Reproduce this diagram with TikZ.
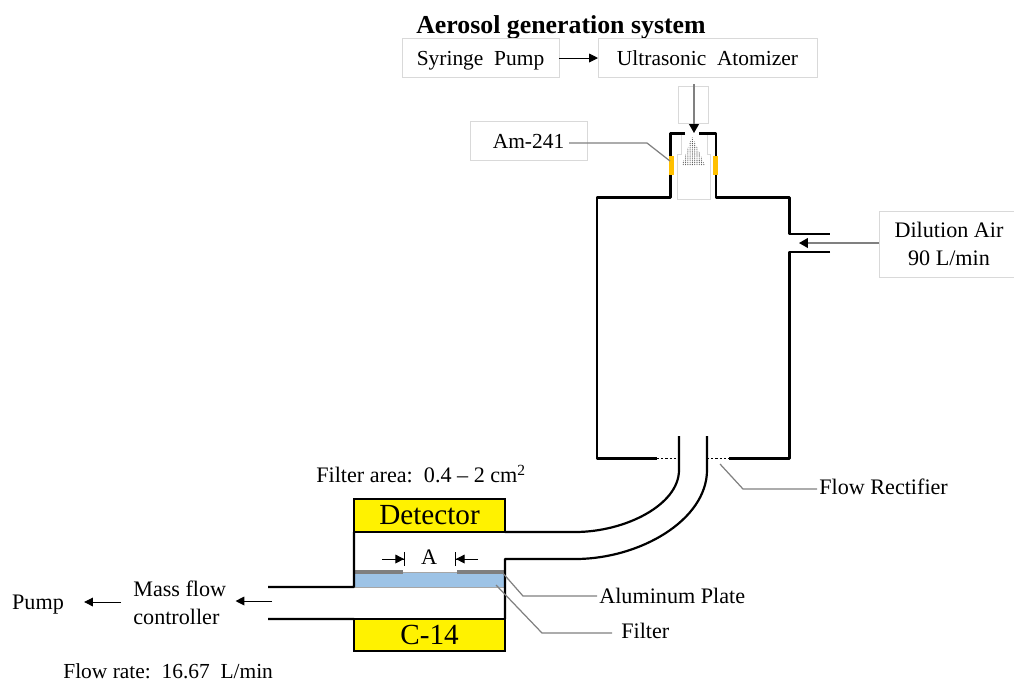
\documentclass[tikz,border=0pt]{standalone}
\usepackage{fontspec}
\setmainfont{Liberation Serif}
\usetikzlibrary{positioning, arrows.meta, patterns}
\definecolor{colTag}{HTML}{D9D9D9}
\definecolor{colSource}{HTML}{FFC000}
\definecolor{colFilter}{HTML}{9DC3E6}
\definecolor{colPlate}{HTML}{7F7F7F}
\definecolor{colLeader}{HTML}{808080}
\pgfdeclarepatternformonly{sprayspeck}{\pgfqpoint{-0.3pt}{-0.3pt}}{\pgfqpoint{1.1pt}{1.1pt}}{\pgfqpoint{1.3pt}{1.1pt}}{\pgfpathcircle{\pgfqpoint{0.2pt}{0.2pt}}{0.32pt}\pgfusepath{fill}}

\begin{document}
\begin{tikzpicture}[
				x=0.02cm, y=-0.02cm,
				font=\fontsize{12.6}{15}\selectfont,
				% Node Styles
				tagbox/.style={draw=colTag, line width=0.5pt, align=center, inner sep=0pt, outer sep=0pt},
				oneline/.style={tagbox, text height=0.9em, text depth=0pt, font=\fontsize{12.2}{15}\selectfont},
				plain/.style={align=center, inner sep=0pt},
				side/.style={plain, anchor=west},
				yellowbox/.style={draw=black, line width=1.2pt, fill=yellow, inner sep=0pt, outer sep=0pt, minimum width=3.02cm, font=\fontsize{16.6}{18}\selectfont},
				% Line Styles
				wall/.style={line width=1.25pt, line join=round},
				arrow/.style={-{Triangle[length=5pt, width=5pt]}, line width=0.5pt},
				flow/.style={colLeader, line width=0.8pt, -{Triangle[length=5pt, width=5.5pt, black]}},
				leader/.style={colLeader, line width=0.7pt},
				mesh/.style={line width=1pt, dash pattern=on 1.2pt off 1.2pt},
				gap/.style={-{Triangle[length=5pt, width=5pt, sep=0pt]Bar[width=8pt]}, line width=0.5pt}
				]
				\useasboundingbox (0,0) rectangle (1014,681);
				
				%% ================= AEROSOL GENERATION =================
				\node[plain, font=\fontsize{14.7}{16}\selectfont\bfseries] (title) at (561,27) {Aerosol generation system};
				\node[oneline, minimum width=3.14cm, minimum height=0.78cm] (syringe) at (480.5,58) {Syringe~~Pump};
				\node[oneline, minimum width=4.38cm, minimum height=0.78cm, right=0.78cm of syringe] (atomizer) {Ultrasonic~~Atomizer};
				\node[tagbox, minimum width=0.6cm, minimum height=0.74cm] (nozzle) at (693,104.5) {};
				\node[oneline, minimum width=2.34cm, minimum height=0.78cm] (source) at (528.5,140.5) {Am-241};
				\node[tagbox, minimum width=2.8cm, minimum height=1.32cm] (dilution) at (949,244) {Dilution Air\\[1pt]90 L/min};
				
				\coordinate (nozzleout) at (694,84);
				\coordinate (nozzletip) at (694,133);
				\coordinate (dilutiontip) at (799,243);
				
				\draw[arrow] (syringe) -- (atomizer);
				
				% Atomizer tube and spray
				\draw[colTag, line width=0.5pt] (681,134) -- (681,154) -- (677,154) -- (677,199) -- (710,199) -- (710,154) -- (707,154) -- (707,134);
				\path[pattern=sprayspeck, pattern color=black!75] (692,136) -- (705,165) -- (682,165) -- cycle;
				
				%% ================= CHAMBER =================
				\draw[wall] (685,133.5) -- (670.5,133.5) -- (670.5,197.5) -- (597,197.5) -- (597,458.5) -- (657,458.5);
				\draw[wall] (699,133.5) -- (716,133.5) -- (716,197.5) -- (789.5,197.5) -- (789.5,234) -- (830,234);
				\draw[wall] (830,252) -- (789.5,252) -- (789.5,458.5) -- (729,458.5);
				\draw[mesh] (657,458.5) -- (680,458.5);
				\draw[mesh] (707,458.5) -- (729,458.5);
				\fill[colSource] (669,156) rectangle (674,175);
				\fill[colSource] (713,156) rectangle (718,175);
				
				\draw[flow] (nozzleout) -- (nozzletip);
				\draw[flow] (dilution.west |- dilutiontip) -- (dilutiontip);
				
				%% ================= FILTER HOLDER =================
				\node[yellowbox, minimum height=0.66cm] (detector) at (429.5,515.5) {Detector};
				\node[yellowbox, minimum height=0.64cm, below=1.74cm of detector] (carbon) {C-14};
				
				\fill[colFilter] (355,573) rectangle (505,587);
				\draw[colLeader!70, line width=0.5pt] (355,587) -- (505,587);
				\draw[colLeader!70, line width=0.5pt] (403,572.5) -- (457,572.5);
				\fill[colPlate] (355,570) rectangle (403,574);
				\fill[colPlate] (457,570) rectangle (505,574);
				
				% Pipe from chamber to holder
				\draw[wall] (679,436) -- (679,470) .. controls (679,505) and (625,532) .. (575,532) -- (detector.south east);
				\draw[wall] (707,436) -- (707,470) .. controls (707,520) and (640,559) .. (575,559) -- (505,559) -- (carbon.north east);
				\draw[wall] (detector.south west) -- ++(0,55) -- (268,587);
				\draw[wall] (carbon.north west) -- (268,619);
				
				\node[plain] (gaplabel) at (429,557) {A};
				\coordinate (gapleft) at (382,559);
				\coordinate (gapright) at (478,559);
				\draw[gap] (gapleft) -- (405,559);
				\draw[gap] (gapright) -- (455,559);
				
				%% ================= LABELS =================
				\node[side] (filterarea) at (316,474) {Filter area:~~0.4 -- 2 cm\textsuperscript{2}};
				\node[side] (rectifier) at (819,487) {Flow Rectifier};
				\node[side] (plate) at (599,596) {Aluminum Plate};
				\node[side] (filter) at (621,631) {Filter};
				\node[side, font=\fontsize{12.2}{15}\selectfont] (flowrate) at (63,671) {Flow rate:~~16.67~~L/min};
				\node[side, align=left] (massflow) at (133,603) {Mass flow\\[1pt]controller};
				\node[plain] (pump) at (38,605) {Pump};
				
				\coordinate (pipeout) at (272,601);
				\coordinate (pumpout) at (121,602);
				\draw[arrow, shorten >=0.4cm] (pumpout) -- (pumpout -| pump.east);
				\draw[arrow, shorten >=0.18cm] (pipeout) -- (pipeout -| massflow.east);
				
				% Leaders
				\coordinate (rectifierend) at (817,489);
				\coordinate (filterend) at (612,633);
				\draw[leader] (569,143) -- (647,143) -- (670,161);
				\draw[leader] (720,464) -- (743,489) -- (rectifierend);
				\draw[leader, shorten >=0.04cm] (501,571) -- (523,596) -- (plate.west);
				\draw[leader] (496,585) -- (542,633) -- (filterend);
				
			\end{tikzpicture}
\end{document}
